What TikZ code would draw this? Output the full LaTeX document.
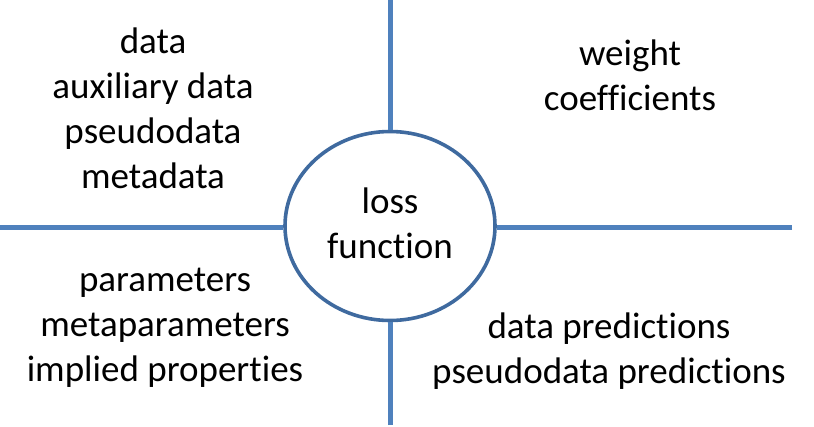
\documentclass[tikz,border=0pt]{standalone}
\usepackage{fontspec}
\setmainfont[Ligatures=NoCommon]{Carlito}
\usetikzlibrary{shapes.geometric}
\definecolor{axisblue}{HTML}{4F81BD}
\definecolor{ringblue}{HTML}{3F6A9F}
\begin{document}
\begin{tikzpicture}[x=1pt,y=-1pt,
  axis/.style={draw=axisblue,line width=5pt},
  ring/.style={draw=ringblue,line width=3.6pt,ellipse,minimum width=210pt,minimum height=189pt,inner sep=0pt},
  lbl/.style={align=center,font=\fontsize{37}{45}\selectfont,inner sep=0pt,anchor=base}]
\useasboundingbox (0,0) rectangle (814,426);
\node[ring] (loss) at (390,226) {};
\coordinate (L) at (0,227.5);
\coordinate (R) at (792,227.5);
\coordinate (T) at (390.5,0);
\coordinate (B) at (390.5,425);
\draw[axis] (L) -- (L -| loss.west);
\draw[axis] (R) -- (R -| loss.east);
\draw[axis] (T) -- (T |- loss.north);
\draw[axis] (B) -- (B |- loss.south);
\node[lbl] (lt) at (390,258) {loss\\function};
\node[lbl] (tl) at (153,188) {data\\auxiliary data\\pseudodata\\metadata};
\node[lbl] (tr) at (630,110) {weight\\coefficients};
\node[lbl] (bl) at (165,381) {parameters\\metaparameters\\implied properties};
\node[lbl] (br) at (609,383) {data predictions\\pseudodata predictions};
\end{tikzpicture}
\end{document}
